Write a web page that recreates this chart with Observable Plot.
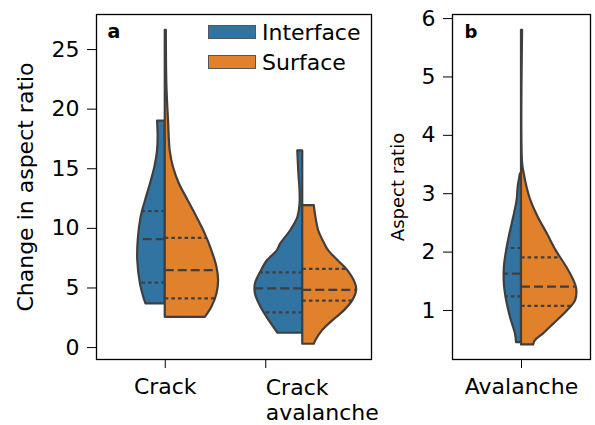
<!DOCTYPE html>
<html><head><meta charset="utf-8">
<script src="https://cdn.jsdelivr.net/npm/d3@7"></script>
<script src="https://cdn.jsdelivr.net/npm/@observablehq/plot@0.6"></script>
<style>
body{margin:0;background:#fff;}
#root{position:relative;width:595px;height:425px;font-family:"DejaVu Sans",sans-serif;}
#a,#b{position:absolute;top:0;}
#a{left:0}
#b{left:380px}
.patch{position:absolute;left:208px;width:46px;height:12px;border:1px solid #555;}
.lgtext{position:absolute;left:262px;font-size:22px;line-height:22px;color:#000;}
</style></head><body>
<div id="root"><div id="a"></div><div id="b"></div>
<div id="legend"></div></div>
<script>
// ---------- data ----------
const seriesNames = ["Interface", "Surface"];
const categoriesA = ["Crack", "Crack\navalanche"];
const categoriesB = ["Avalanche"];
const yTicksA = [0, 5, 10, 15, 20, 25];
const yTicksB = [1, 2, 3, 4, 5, 6];

// violin profiles: value -> relative density (1 = widest half-width)
const crackIfaceV = [3.66, 4.2, 5.3, 7.3, 9.1, 10.9, 12.3, 13.7, 15.1, 16.5, 17.8, 19.0];
const crackIfaceD = [0.35, 0.39, 0.45, 0.50, 0.49, 0.44, 0.36, 0.27, 0.19, 0.14, 0.13, 0.14];
const crackIfaceQ = [5.45, 9.1, 11.45];

const crackSurfV = [2.54, 3.4, 4.5, 5.6, 6.73, 8.1, 9.5, 10.9, 12.3, 13.7, 15.1, 16.5, 19.0, 22.0, 26.6];
const crackSurfD = [0.73, 0.85, 0.94, 0.97, 0.94, 0.85, 0.73, 0.58, 0.42, 0.26, 0.15, 0.09, 0.06, 0.03, 0.02];
const crackSurfQ = [4.13, 6.5, 9.2];

const crackAvIfaceV = [1.2, 2.26, 3.38, 4.5, 5.34, 6.45, 7.3, 7.57, 8.13, 8.7, 9.8, 10.9, 12.0, 13.2, 14.55, 16.5];
const crackAvIfaceD = [0.45, 0.61, 0.76, 0.86, 0.86, 0.75, 0.64, 0.58, 0.46, 0.40, 0.22, 0.09, 0.05, 0.05, 0.07, 0.09];
const crackAvIfaceQ = [2.96, 4.97, 6.31];

const crackAvSurfV = [0.28, 0.59, 1.42, 2.26, 3.1, 3.94, 4.78, 5.34, 6.45, 7.3, 8.13, 8.7, 9.8, 10.9, 11.9];
const crackAvSurfD = [0.21, 0.24, 0.36, 0.55, 0.76, 0.91, 0.98, 0.96, 0.82, 0.64, 0.47, 0.40, 0.29, 0.24, 0.21];
const crackAvSurfQ = [3.94, 4.84, 6.6];

const avIfaceV = [0.45, 0.6, 0.88, 1.17, 1.45, 1.74, 2.02, 2.31, 2.6, 2.88, 3.11, 3.34];
const avIfaceD = [0.09, 0.11, 0.20, 0.27, 0.31, 0.31, 0.27, 0.21, 0.14, 0.08, 0.06, 0.02];
const avIfaceQ = [1.24, 1.63, 2.07];

const avSurfV = [0.41, 0.48, 0.6, 0.77, 0.99, 1.17, 1.37, 1.51, 1.74, 2.02, 2.31, 2.6, 2.88, 3.11, 3.34, 3.52, 5.8];
const avSurfD = [0.22, 0.25, 0.40, 0.59, 0.83, 0.98, 1.00, 0.95, 0.82, 0.63, 0.47, 0.30, 0.17, 0.10, 0.05, 0.02, 0.02];
const avSurfQ = [1.08, 1.41, 1.91];

// ---------- style ----------
const COLORS = {Interface: "#3274a1", Surface: "#e1812c"};
const EDGE = "#3f3f3f";
const SW = 2.2;
const HALF = 0.4;

function interp(vs, ds, q) {
  for (let i = 0; i < vs.length - 1; i++) {
    if (q >= vs[i] && q <= vs[i + 1]) {
      const t = (q - vs[i]) / (vs[i + 1] - vs[i]);
      return ds[i] + t * (ds[i + 1] - ds[i]);
    }
  }
  return 0;
}

function halfViolin(center, vs, ds, qs, series) {
  const side = series === "Interface" ? -1 : 1;
  const rows = vs.map((v, i) => ({v, d: ds[i]}));
  const edgeX = (q) => center + side * HALF * interp(vs, ds, q);
  return [
    Plot.areaX(rows, {
      y: "v", x1: () => center, x2: r => center + side * HALF * r.d,
      fill: COLORS[series], stroke: EDGE, strokeWidth: SW,
      strokeLinejoin: "round", curve: "catmull-rom"
    }),
    Plot.ruleY([qs[0], qs[2]], {
      y: d => d, x1: () => center, x2: d => edgeX(d),
      stroke: EDGE, strokeWidth: SW, strokeDasharray: "3.6,3"
    }),
    Plot.ruleY([qs[1]], {
      y: d => d, x1: () => center, x2: d => edgeX(d),
      stroke: EDGE, strokeWidth: SW, strokeDasharray: "9,4"
    })
  ];
}

const baseStyle = {fontFamily: "DejaVu Sans", fontSize: "22px", color: "#000", background: "transparent", overflow: "visible"};

const chartA = Plot.plot({
  width: 380, height: 425,
  marginLeft: 96, marginRight: 9, marginTop: 14, marginBottom: 66,
  style: baseStyle,
  x: {domain: [-0.5, 1.5]},
  y: {domain: [-1.0, 27.94]},
  marks: [
    ...halfViolin(0, crackIfaceV, crackIfaceD, crackIfaceQ, "Interface"),
    ...halfViolin(0, crackSurfV, crackSurfD, crackSurfQ, "Surface"),
    ...halfViolin(1, crackAvIfaceV, crackAvIfaceD, crackAvIfaceQ, "Interface"),
    ...halfViolin(1, crackAvSurfV, crackAvSurfD, crackAvSurfQ, "Surface"),
    Plot.frame({stroke: "#000", strokeWidth: 1.3}),
    Plot.axisY({ticks: yTicksA, tickFormat: d3.format("d"), tickSize: 9, tickPadding: 8, label: "Change in aspect ratio",
      labelAnchor: "center", labelOffset: 79, labelArrow: "none"}),
    Plot.axisX({ticks: [0], tickFormat: i => categoriesA[i], tickSize: 9, tickPadding: 10, label: null}),
    Plot.axisX({ticks: [1], tickFormat: i => categoriesA[i], tickSize: 9, tickPadding: 9, label: null,
      textAnchor: "start", dx: -37, lineHeight: 1.12}),
    Plot.text(["a"], {text: d => d, frameAnchor: "top-left", dx: 11, dy: 10, lineAnchor: "top",
      fontWeight: "bold", fontSize: 19})
  ]
});
document.getElementById("a").append(chartA);

const chartB = Plot.plot({
  width: 215, height: 425,
  marginLeft: 72, marginRight: 5, marginTop: 14, marginBottom: 66,
  style: baseStyle,
  x: {domain: [-0.5, 0.5]},
  y: {domain: [0.16, 6.07]},
  marks: [
    ...halfViolin(0, avIfaceV, avIfaceD, avIfaceQ, "Interface"),
    ...halfViolin(0, avSurfV, avSurfD, avSurfQ, "Surface"),
    Plot.frame({stroke: "#000", strokeWidth: 1.3}),
    Plot.axisY({ticks: yTicksB, tickFormat: d3.format("d"), tickSize: 9, tickPadding: 8, label: null}),
    Plot.axisY({ticks: [], tickSize: 0, label: "Aspect ratio", labelAnchor: "center",
      labelOffset: 61, labelArrow: "none", fontSize: 18, dy: -12}),
    Plot.axisX({ticks: [0], tickFormat: i => categoriesB[i], tickSize: 9, tickPadding: 10, label: null}),
    Plot.text(["b"], {text: d => d, frameAnchor: "top-left", dx: 12, dy: 11, lineAnchor: "top",
      fontWeight: "bold", fontSize: 18})
  ]
});
document.getElementById("b").append(chartB);

// legend (inside panel a, upper right)
const lg = document.getElementById("legend");
seriesNames.forEach((s, i) => {
  const p = document.createElement("div");
  p.className = "patch";
  p.style.top = (25 + i * 30) + "px";
  p.style.background = COLORS[s];
  lg.append(p);
  const t = document.createElement("div");
  t.className = "lgtext";
  t.style.top = (22 + i * 30) + "px";
  t.textContent = s;
  lg.append(t);
});
</script>
</body></html>
